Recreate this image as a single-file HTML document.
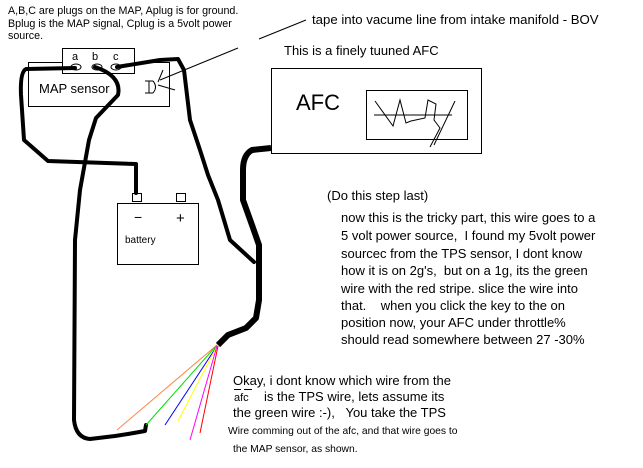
<!DOCTYPE html>
<html><head><style>
html,body{margin:0;padding:0;background:#fff;}
svg{display:block}
text{font-family:"Liberation Sans",sans-serif;fill:#000;white-space:pre}
</style></head><body>
<svg width="643" height="468" viewBox="0 0 643 468" xmlns="http://www.w3.org/2000/svg">
<rect width="643" height="468" fill="#fff"/>
<g font-size="10.7">
<text x="8" y="14">A,B,C are plugs on the MAP, Aplug is for ground.</text>
<text x="8" y="27">Bplug is the MAP signal, Cplug is a 5volt power</text>
<text x="8" y="39">source.</text>
</g>
<text x="312" y="24" font-size="13.2">tape into vacume line from intake manifold - BOV</text>
<line x1="259" y1="39" x2="306" y2="20" stroke="#000" stroke-width="1"/>
<line x1="238" y1="48" x2="160" y2="80" stroke="#000" stroke-width="1"/>
<text x="284" y="55" font-size="13">This is a finely tuuned AFC</text>
<!-- MAP sensor -->
<rect x="28.5" y="62.5" width="141" height="44" fill="none" stroke="#000"/>
<rect x="62.5" y="48.5" width="72" height="25" fill="#fff" stroke="#000"/>
<g font-size="11"><text x="72" y="60">a</text><text x="92" y="60">b</text><text x="113" y="60">c</text></g>
<g fill="none" stroke="#000"><ellipse cx="76" cy="67" rx="5" ry="3"/><ellipse cx="97" cy="67" rx="5" ry="3"/><ellipse cx="116" cy="67" rx="5" ry="3"/></g>
<text x="39" y="93" font-size="13">MAP sensor</text>
<path d="M145 81 H153 M145 93 H153 M149 81 V93 M153 81 Q158 87 153 93 M158 82 L163 70 M158 85 L175 90" stroke="#000" fill="none"/>
<!-- battery -->
<rect x="117.5" y="203.5" width="81" height="61" fill="none" stroke="#000"/>
<rect x="132.5" y="193.5" width="9" height="8" fill="none" stroke="#000"/>
<rect x="176.5" y="193.5" width="9" height="8" fill="none" stroke="#000"/>
<text x="134" y="222" font-size="14">−</text>
<text x="176" y="223" font-size="15">+</text>
<text x="125" y="243" font-size="10">battery</text>
<!-- AFC -->
<rect x="271.5" y="68.5" width="210" height="85" fill="none" stroke="#000"/>
<text x="296" y="110" font-size="22">AFC</text>
<rect x="366.5" y="90.5" width="101" height="49" fill="none" stroke="#000"/>
<path d="M374 115 H452 M375 101 L393 126 L400 100 L406 123 L411 121 L425 118 L428 100 L436 104 L434 120 L437 124 L440 128 L430 147 M455 101 L434 145" stroke="#000" fill="none"/>
<!-- wires -->
<g fill="none" stroke="#000" stroke-width="4" stroke-linejoin="round" stroke-linecap="round">
<path d="M75 68 L26 69 Q20 72 21 95 L24 140 L48 161 L136 164 L136 193"/>
<path d="M95 67 Q122 76 118 95 L96 118 L89 140 L80 190 L75 240 L74 420 Q76 438 90 439 L115 436 L128 434 L145 431 L146 425"/>
<path d="M117 67 L160 60 L178 59 L184 70 L190 120 L200 150 L208 175 L218 200 L230 240 L254 262"/>
</g>
<path d="M271 148 L252 150 Q243 155 243 170 L243 200 L252 225 L259 245 L259 300 L256 318 L246 328 L228 335 L218 345" fill="none" stroke="#000" stroke-width="6" stroke-linejoin="round"/>
<g fill="none" stroke-width="1">
<path d="M217 345 L117 430" stroke="#ff8040"/>
<path d="M217 345 L146 425" stroke="#00e000"/>
<path d="M217 346 L165 425" stroke="#0000ff"/>
<path d="M217 346 L178 421" stroke="#ffff00"/>
<path d="M217 346 L190 440" stroke="#ff00ff"/>
<path d="M218 346 L200 433" stroke="#ff0000"/>
</g>
<text x="327" y="200" font-size="13">(Do this step last)</text>
<g font-size="13">
<text x="341" y="222">now this is the tricky part, this wire goes to a</text>
<text x="341" y="240">5 volt power source,  I found my 5volt power</text>
<text x="341" y="258">sourcec from the TPS sensor, I dont know</text>
<text x="341" y="275">how it is on 2g's,  but on a 1g, its the green</text>
<text x="341" y="293">wire with the red stripe. slice the wire into</text>
<text x="341" y="310">that.    when you click the key to the on</text>
<text x="341" y="327">position now, your AFC under throttle%</text>
<text x="341" y="344">should read somewhere between 27 -30%</text>
</g>
<g font-size="13">
<text x="233" y="385">Okay, i dont know which wire from the</text>
<text x="234" y="401" font-size="11">afc</text>
<line x1="234" y1="389.5" x2="241" y2="389.5" stroke="#000"/>
<line x1="244" y1="389.5" x2="252" y2="389.5" stroke="#000"/>
<text x="264" y="401">is the TPS wire, lets assume its</text>
<text x="233" y="417">the green wire :-),   You take the TPS</text>
</g>
<text x="228" y="434" font-size="10.3">Wire comming out of the afc, and that wire goes to</text>
<text x="233" y="452" font-size="10.3">the MAP sensor, as shown.</text>
</svg>
</body></html>
